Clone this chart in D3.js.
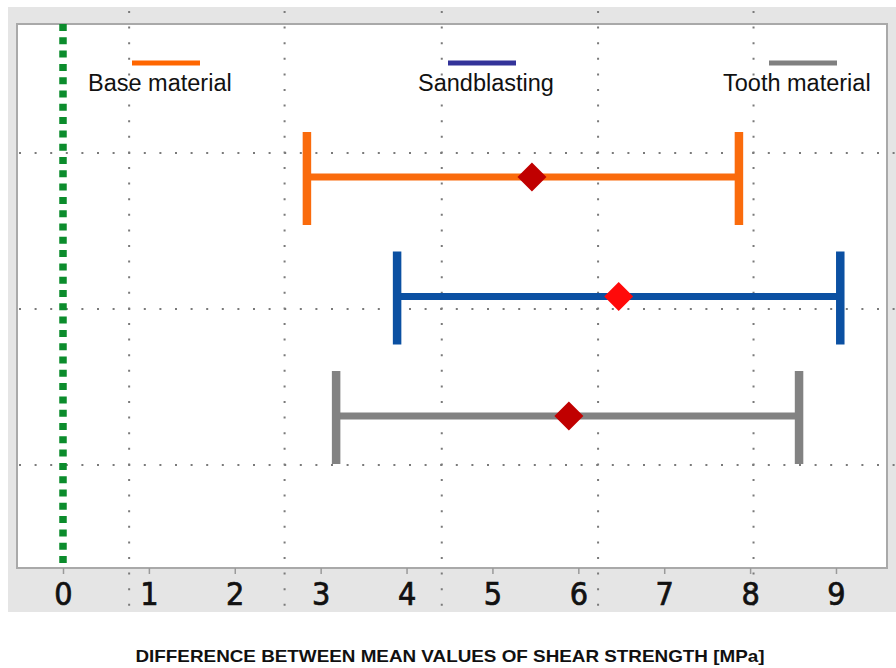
<!DOCTYPE html>
<meta charset="utf-8">
<script src="https://d3js.org/d3.v7.min.js"></script>
<style>
  body { margin: 0; background: #fff; }
</style>
<div id="chart"></div>
<script>
// data
var seriesNames = ["Base material", "Sandblasting", "Tooth material"];
var lowerValues = [2.84, 3.89, 3.18];
var meanValues  = [5.46, 6.47, 5.89];
var upperValues = [7.87, 9.05, 8.57];
var xTicks = [0, 1, 2, 3, 4, 5, 6, 7, 8, 9];
var xGridValues = [0.77, 2.58, 4.41, 6.23, 8.04];
var rowGridValues = [-0.2, 1.105, 2.41];
var barColors = ["#fa6b0c", "#0b50a2", "#828282"];
var legendColors = ["#ff6600", "#333399", "#808080"];
var diamondColors = ["#c00000", "#ff0a0a", "#c00000"];
var axisTitle = "DIFFERENCE BETWEEN MEAN VALUES OF SHEAR STRENGTH [MPa]";

var W = 896, H = 668;
var plot = {left: 17, top: 24, right: 887, bottom: 568};

var svg = d3.select("#chart").append("svg")
  .attr("width", W).attr("height", H);

var x = d3.scaleLinear().domain([-0.5356, 9.594]).range([plot.left, plot.right]);
var y = d3.scaleLinear().domain([0, 2]).range([177, 416]);

// gray frame and white plot area
svg.append("rect").attr("x", 8).attr("y", 7).attr("width", 888).attr("height", 605)
  .attr("fill", "#e5e5e5");
svg.append("rect").attr("x", plot.left).attr("y", plot.top)
  .attr("width", plot.right - plot.left).attr("height", plot.bottom - plot.top)
  .attr("fill", "#fff").attr("stroke", "#a9a9a9").attr("stroke-width", 2);

// dotted grid
svg.selectAll(".vgrid").data(xGridValues).enter().append("line")
  .attr("x1", function(d) { return x(d); }).attr("x2", function(d) { return x(d); })
  .attr("y1", 11).attr("y2", 612)
  .attr("stroke", "#7a7a7a").attr("stroke-width", 2).attr("stroke-dasharray", "2,13.6");
svg.selectAll(".hgrid").data(rowGridValues).enter().append("line")
  .attr("x1", 19).attr("x2", 896)
  .attr("y1", function(d) { return y(d); }).attr("y2", function(d) { return y(d); })
  .attr("stroke", "#7a7a7a").attr("stroke-width", 2).attr("stroke-dasharray", "2,13.6");

// x axis
var axis = svg.append("g")
  .attr("transform", "translate(0," + plot.bottom + ")")
  .call(d3.axisBottom(x).tickValues(xTicks).tickSize(6).tickFormat(d3.format("d")));
axis.select(".domain").remove();
axis.selectAll(".tick line").attr("stroke", "#9a9a9a").attr("stroke-width", 1.5);
axis.selectAll(".tick text")
  .attr("y", 37).attr("dy", 0)
  .attr("fill", "#111")
  .attr("stroke", "#111").attr("stroke-width", 0.7)
  .style("font-family", "'DejaVu Sans Condensed', 'DejaVu Sans', sans-serif")
  .style("font-stretch", "condensed")
  .style("font-size", "32px");

// zero reference line
svg.append("line")
  .attr("x1", x(0)).attr("x2", x(0)).attr("y1", plot.top).attr("y2", plot.bottom)
  .attr("stroke", "#0b8c2c").attr("stroke-width", 7.5).attr("stroke-dasharray", "7,6.3");

// error bars
var bars = svg.selectAll(".bar").data(seriesNames).enter().append("g");
bars.append("line")
  .attr("x1", function(d, i) { return x(lowerValues[i]); })
  .attr("x2", function(d, i) { return x(upperValues[i]); })
  .attr("y1", function(d, i) { return y(i); }).attr("y2", function(d, i) { return y(i); })
  .attr("stroke", function(d, i) { return barColors[i]; }).attr("stroke-width", 7);
[lowerValues, upperValues].forEach(function(vals) {
  bars.append("line")
    .attr("x1", function(d, i) { return x(vals[i]); })
    .attr("x2", function(d, i) { return x(vals[i]); })
    .attr("y1", function(d, i) { return y(i) - 45; })
    .attr("y2", function(d, i) { return y(i) + 48; })
    .attr("stroke", function(d, i) { return barColors[i]; }).attr("stroke-width", 8.5);
});
bars.append("path")
  .attr("d", "M0,-14.5L14.5,0L0,14.5L-14.5,0Z")
  .attr("transform", function(d, i) { return "translate(" + x(meanValues[i]) + "," + y(i) + ")"; })
  .attr("fill", function(d, i) { return diamondColors[i]; });

// legend
var legendLineX = [132, 448, 769];
var legendTextX = [88, 418, 723];
var legend = svg.selectAll(".legend").data(seriesNames).enter().append("g");
legend.append("line")
  .attr("x1", function(d, i) { return legendLineX[i]; })
  .attr("x2", function(d, i) { return legendLineX[i] + 68; })
  .attr("y1", 63).attr("y2", 63)
  .attr("stroke", function(d, i) { return legendColors[i]; }).attr("stroke-width", 5);
legend.append("text")
  .attr("x", function(d, i) { return legendTextX[i]; })
  .attr("y", 91)
  .style("font-family", "'Liberation Sans', Arial, sans-serif")
  .style("font-size", "23.5px")
  .attr("fill", "#111")
  .text(function(d) { return d; });

// axis title
svg.append("text")
  .attr("x", 450).attr("y", 662)
  .attr("text-anchor", "middle")
  .attr("textLength", 629).attr("lengthAdjust", "spacingAndGlyphs")
  .style("font-family", "'Liberation Sans', Arial, sans-serif")
  .style("font-weight", "bold")
  .style("font-size", "16.5px")
  .attr("fill", "#111")
  .text(axisTitle);
</script>
